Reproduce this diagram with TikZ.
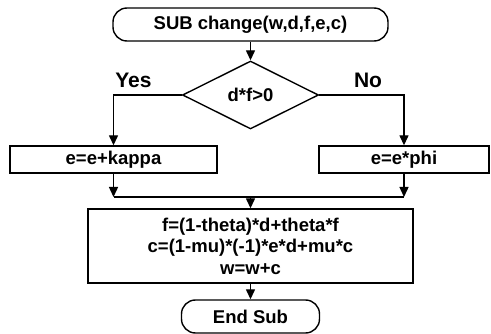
\documentclass[tikz,border=0pt]{standalone}
\usepackage{fontspec}
\setmainfont{Liberation Sans}
\usetikzlibrary{shapes.geometric,arrows.meta}
\begin{document}
\begin{tikzpicture}[x=1pt,y=-1pt,
  every node/.style={font=\fontsize{18.5}{21.5}\selectfont\bfseries},
  lbl/.style={font=\fontsize{21}{24}\selectfont\bfseries,anchor=base,inner sep=0pt},
  line/.style={line width=1.4pt},
  arr/.style={line width=1.4pt,-{Triangle[width=9pt,length=10pt]}},
  term/.style={draw,line width=1.4pt,rounded corners=14pt,inner sep=0pt},
  boxx/.style={draw,line width=1.4pt,inner sep=0pt,align=center},
  dec/.style={draw,diamond,aspect=2,line width=1.4pt,inner sep=0pt}]
\useasboundingbox (0,0) rectangle (491,334);
\node[term,minimum width=275pt,minimum height=33pt] (top) at (250.5,24.5) {SUB change(w,d,f,e,c)};
\node[dec,minimum width=136pt,minimum height=68pt] (cond) at (250.5,95) {d*f>0};
\node[boxx,minimum width=207pt,minimum height=27pt] (left) at (113.5,159.5) {e=e+kappa};
\node[boxx,minimum width=170pt,minimum height=27pt] (right) at (404,159.5) {e=e*phi};
\node[boxx,minimum width=325pt,minimum height=74pt] (mid) at (250.5,246) {f=(1-theta)*d+theta*f\\c=(1-mu)*(-1)*e*d+mu*c\\w=w+c};
\node[term,minimum width=138pt,minimum height=33pt] (end) at (250.5,316.5) {End Sub};
\node[lbl] (yes) at (133.5,88) {Yes};
\node[lbl] (no) at (368,88) {No};
\coordinate (jn) at (250.5,197);
\draw[arr] (top.south) -- (cond.north);
\draw[arr] (cond.west) -| (left.north);
\draw[arr] (cond.east) -| (right.north);
\draw[arr] (left.south) -- (left.south |- jn);
\draw[arr] (right.south) -- (right.south |- jn);
\draw[line] (left.south |- jn) -- (right.south |- jn);
\draw[arr] (jn) -- (mid.north);
\draw[arr] (mid.south) -- (end.north);
\end{tikzpicture}
\end{document}
